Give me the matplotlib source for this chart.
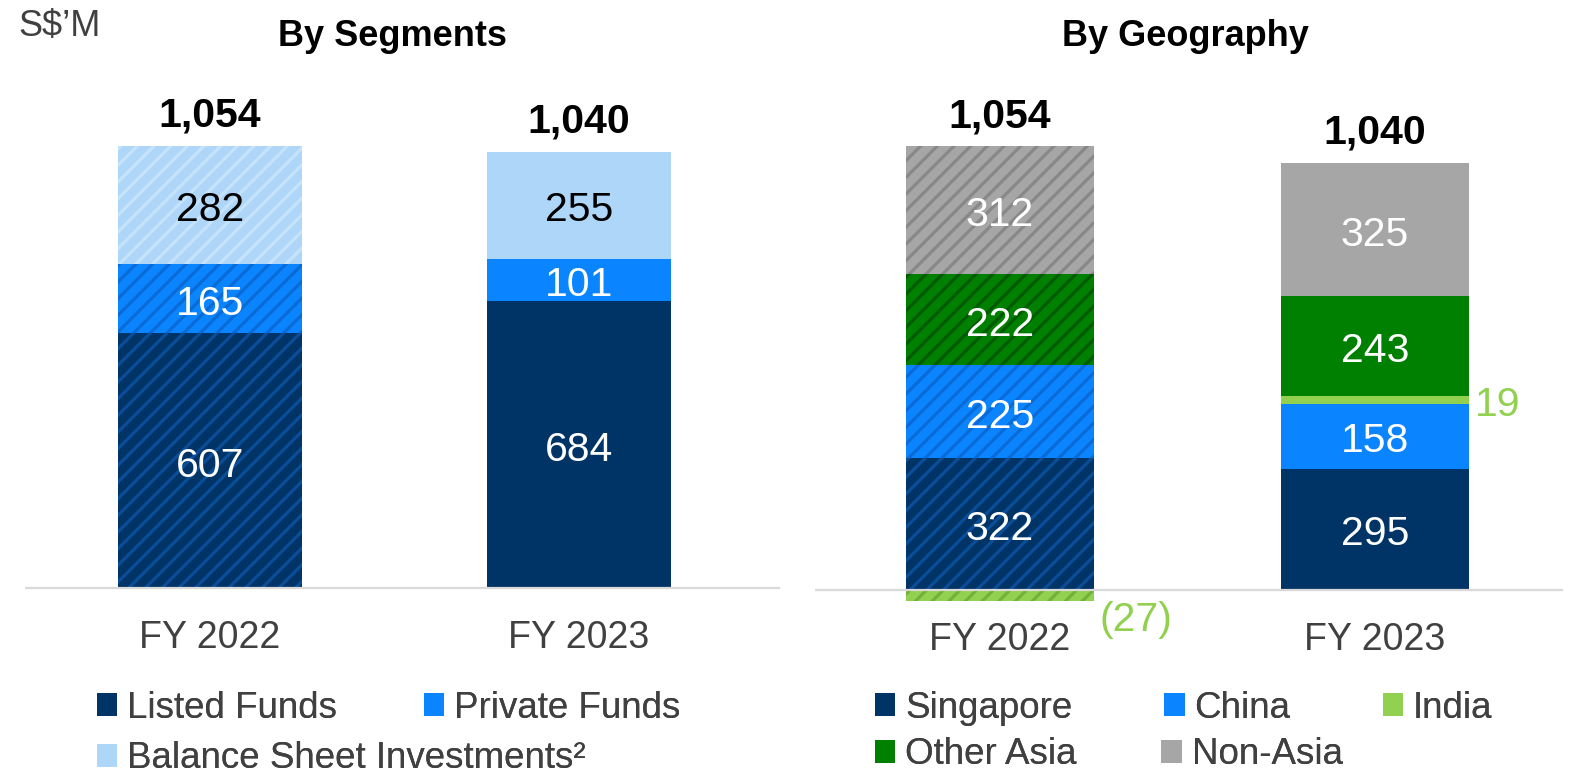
import matplotlib
matplotlib.use("Agg")
from matplotlib import pyplot as plt
from matplotlib.patches import Patch

plt.rcParams['font.family'] = ['Liberation Sans', 'DejaVu Sans']
plt.rcParams['hatch.linewidth'] = 2.3

W, H = 1573, 778

# ---- data ----
years = ["FY 2022", "FY 2023"]

seg_names = ["Listed Funds", "Private Funds", "Balance Sheet Investments²"]
seg_listed = [607, 684]
seg_private = [165, 101]
seg_bsi = [282, 255]
seg_totals = [1054, 1040]

geo_names = ["Singapore", "China", "India", "Other Asia", "Non-Asia"]
geo_singapore = [322, 295]
geo_china = [225, 158]
geo_india = [-27, 19]
geo_other_asia = [222, 243]
geo_non_asia = [312, 325]
geo_totals = [1054, 1040]

# ---- styles ----
NAVY = "#003366"
BLUE = "#0A84FF"
LIGHTBLUE = "#AED6F9"
GREEN = "#008000"
LIGHTGREEN = "#92D050"
GREY = "#A6A6A6"
TXT = "#404040"

# stripe colour used on the hatched FY 2022 bars
stripe = {NAVY: "#0A4E9A", BLUE: "#0A6AD6", LIGHTBLUE: "#C6E3FC",
          GREEN: "#005A00", LIGHTGREEN: "#74B03A", GREY: "#888888"}

DY = -5  # text nudge so digits sit visually centred


def px_axes(x0, x1, y0, y1):
    # pixel box (top-left origin) -> figure axes
    return fig.add_axes([x0 / W, 1 - y1 / H, (x1 - x0) / W, (y1 - y0) / H])


def stacked(ax, series, colors, lblcols, totals, outside=None):
    xs = range(len(years))
    pos = [0.0] * len(years)
    neg = [0.0] * len(years)
    for vals, col, lc in zip(series, colors, lblcols):
        for i in xs:
            v = vals[i]
            base = pos[i] if v >= 0 else neg[i]
            ax.bar(i, v, bottom=base, width=0.5, color=col, linewidth=0,
                   edgecolor=stripe[col] if i == 0 else col,
                   hatch="//" if i == 0 else None, zorder=2)
            mid = base + v / 2
            txt = f"{v}" if v >= 0 else f"({-v})"
            if outside is not None and vals is outside:
                dy = DY if v >= 0 else DY - 19
                ax.annotate(txt, (i + 0.25, mid), xytext=(6, dy),
                            textcoords="offset pixels", ha="left",
                            va="center", fontsize=29.5, color=col)
            else:
                ax.annotate(txt, (i, mid), xytext=(0, DY),
                            textcoords="offset pixels", ha="center",
                            va="center", fontsize=29.5, color=lc, zorder=3)
            if v >= 0:
                pos[i] += v
            else:
                neg[i] += v
    for i in xs:
        ax.annotate(f"{totals[i]:,}", (i, pos[i]), xytext=(0, 35 + DY),
                    textcoords="offset pixels", ha="center", va="center",
                    fontsize=29.5, fontweight="bold", color="black")
        ax.annotate(years[i], (i, 0), xytext=(0, -45 + DY),
                    textcoords="offset pixels", ha="center", va="center",
                    fontsize=27, color=TXT)
    ax.axhline(0, color="#D9D9D9", linewidth=1.6, zorder=4)
    ax.set_axis_off()


fig = plt.figure(figsize=(W / 100, H / 100), dpi=100)

# ---- By Segments ----
axl = px_axes(25, 780, 100, 660)
s = 0.4194
axl.set_xlim(-185 / 369, 570 / 369)
axl.set_ylim(-(660 - 588) / s, (588 - 100) / s)
stacked(axl, [seg_listed, seg_private, seg_bsi], [NAVY, BLUE, LIGHTBLUE],
        ["white", "white", "black"], seg_totals)

# ---- By Geography ----
axr = px_axes(815, 1563, 100, 660)
s = 0.4107
axr.set_xlim(-185 / 375, 563 / 375)
axr.set_ylim(-(660 - 590) / s, (590 - 100) / s)
stacked(axr, [geo_singapore, geo_china, geo_india, geo_other_asia, geo_non_asia],
        [NAVY, BLUE, LIGHTGREEN, GREEN, GREY],
        ["white", "white", LIGHTGREEN, "white", "white"], geo_totals,
        outside=geo_india)

# ---- titles ----
fig.text(393 / W, 1 - 37 / H, "By Segments", ha="center", va="center",
         fontsize=26, fontweight="bold")
fig.text(1185 / W, 1 - 37 / H, "By Geography", ha="center", va="center",
         fontsize=26, fontweight="bold")
fig.text(18 / W, 1 - 27 / H, "S$’M", ha="left", va="center", fontsize=26,
         color=TXT)


# ---- legends (one per row) ----
def legend_row(names, colors, x, y, spacing):
    hs = [Patch(facecolor=c, edgecolor="none", label=n)
          for n, c in zip(names, colors)]
    leg = fig.legend(handles=hs, loc="center left",
                     bbox_to_anchor=(x / W, 1 - y / H), ncol=len(hs),
                     frameon=False, fontsize=26.5, handlelength=0.55,
                     handleheight=0.55, handletextpad=0.27,
                     columnspacing=spacing, borderpad=0, borderaxespad=0)
    for t in leg.get_texts():
        t.set_color(TXT)
    fig.add_artist(leg)


legend_row(seg_names[:2], [NAVY, BLUE], 97, 708, 2.36)
legend_row(seg_names[2:], [LIGHTBLUE], 97, 759, 2.36)
legend_row(geo_names[:3], [NAVY, BLUE, LIGHTGREEN], 875, 708, 2.5)
legend_row(geo_names[3:], [GREEN, GREY], 875, 755, 2.3)

fig.savefig("out.png", dpi=100)
